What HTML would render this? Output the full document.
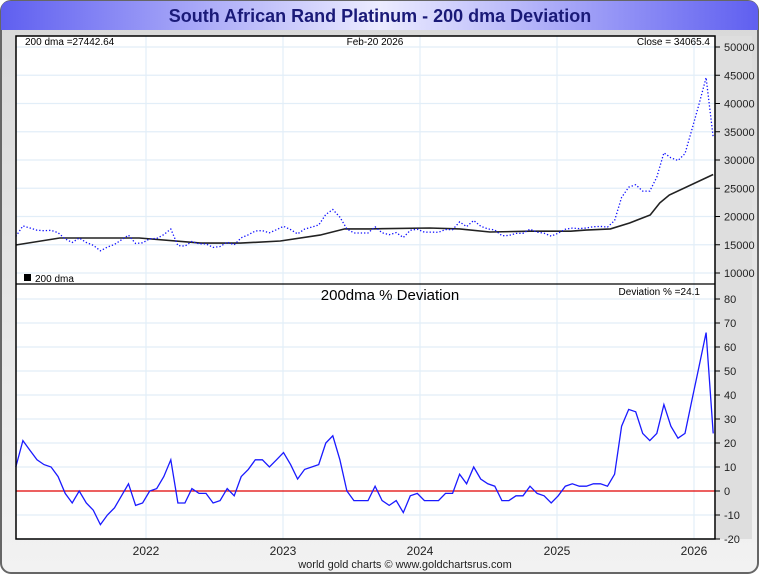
<!DOCTYPE html>
<html><head><meta charset="utf-8"><style>
body{margin:0;background:#fff;font-family:"Liberation Sans",sans-serif;}
#wrap{position:relative;width:760px;height:575px;overflow:hidden;}
</style></head><body>
<div id="wrap">
<svg id="svg" width="760" height="575" xmlns="http://www.w3.org/2000/svg" font-family="Liberation Sans, sans-serif">
<defs>
<linearGradient id="tg" x1="0" x2="1" y1="0" y2="0">
<stop offset="0" stop-color="#5f5ff0"/><stop offset="0.5" stop-color="#ececff"/><stop offset="1" stop-color="#5f5ff0"/></linearGradient>
<linearGradient id="bg" x1="0" x2="0" y1="0" y2="1">
<stop offset="0" stop-color="#d8d8d8"/><stop offset="1" stop-color="#f2f2f2"/></linearGradient>
</defs>
<rect x="1" y="1" width="757" height="572" rx="10" fill="url(#bg)" stroke="#666" stroke-width="2"/>
<path d="M1,30 L1,11 Q1,1 11,1 L748,1 Q758,1 758,11 L758,30 Z" fill="url(#tg)"/>
<text x="380" y="22" text-anchor="middle" font-size="18" font-weight="bold" fill="#1a1a78">South African Rand Platinum - 200 dma Deviation</text>
<rect x="16" y="36" width="699" height="503" fill="#fff"/>
<rect x="716" y="36" width="36" height="503" fill="#dedede"/>
<g id="grid"></g>
<g id="marks"></g>
<rect x="16" y="36" width="699" height="503" fill="none" stroke="#000" stroke-width="1.5"/>
<line x1="16" y1="284" x2="715" y2="284" stroke="#000" stroke-width="1.2"/>
<g id="axes" font-size="11" fill="#222"></g>
<text x="25" y="45" font-size="10" fill="#000">200 dma =27442.64</text>
<text x="375" y="45" font-size="10" text-anchor="middle" fill="#000">Feb-20  2026</text>
<text x="710" y="45" font-size="10" text-anchor="end" fill="#000">Close = 34065.4</text>
<rect x="24" y="274" width="7" height="7" fill="#000"/>
<text x="35" y="282" font-size="10" fill="#000">200 dma</text>
<text x="390" y="300" font-size="15" text-anchor="middle" fill="#000">200dma  %  Deviation</text>
<text x="700" y="295" font-size="10" text-anchor="end" fill="#000">Deviation % =24.1</text>
<text x="405" y="568" font-size="11" text-anchor="middle" fill="#222">world gold charts © www.goldchartsrus.com</text>
</svg>
</div>
<script>
const startYear = 2021.05;
const endYear = 2026.14;
const yearTicks = [2022, 2023, 2024, 2025, 2026];
const priceTicks = [10000, 15000, 20000, 25000, 30000, 35000, 40000, 45000, 50000];
const devTicks = [-20, -10, 0, 10, 20, 30, 40, 50, 60, 70, 80];
const deviation = [10,21,17,13,11,10,6,-1,-5,0,-5,-8,-14,-10,-7,-2,3,-6,-5,0,1,6,13,-5,-5,1,-1,-1,-5,-4,1,-2,6,9,13,13,10,13,16,11,5,9,10,11,20,23,13,0,-4,-4,-4,2,-4,-6,-4,-9,-2,-1,-4,-4,-4,-1,-1,7,3,10,5,3,2,-4,-4,-2,-2,2,-1,-2,-5,-2,2,3,2,2,3,3,2,7,27,34,33,24,21,24,36,27,22,24,38,52,66,24];
const dmaDates = [2021.05,2021.37,2021.95,2022.40,2022.69,2022.98,2023.27,2023.45,2023.63,2024.07,2024.29,2024.51,2024.80,2025.10,2025.21,2025.39,2025.53,2025.68,2025.75,2025.82,2026.14];
const dmaValues = [14960,16200,16200,15300,15300,15660,16700,17800,17800,17960,17800,17250,17400,17400,17600,17800,18850,20270,22400,23800,27440];

const svgNS = "http://www.w3.org/2000/svg";
const X = t => 146 + (t - 2022) * 137;
const YP = p => 273 - (p - 10000) / 1000 * 5.65;
const YD = d => 491 - d * 2.4;
function mk(tag, attrs, parent){const e=document.createElementNS(svgNS,tag);for(const k in attrs)e.setAttribute(k,attrs[k]);parent.appendChild(e);return e;}
function dmaAt(t){for(let i=0;i<dmaDates.length-1;i++){if(t<=dmaDates[i+1]){const f=(t-dmaDates[i])/(dmaDates[i+1]-dmaDates[i]);return dmaValues[i]+f*(dmaValues[i+1]-dmaValues[i]);}}return dmaValues[dmaValues.length-1];}
const grid=document.getElementById('grid'), marks=document.getElementById('marks'), axes=document.getElementById('axes');
yearTicks.forEach(y=>{
  const g=mk('line',{x1:X(y),x2:X(y),y1:36,y2:539,stroke:'#e2eef8','stroke-width':1.2},grid);
  
  
  const t=mk('text',{x:X(y),y:555,'text-anchor':'middle','font-size':12},axes);
  t.textContent=y;
  
  
});
priceTicks.forEach(p=>{
  const y=YP(p);
  const g=mk('line',{x1:16,x2:715,y1:y,y2:y,stroke:'#e2eef8','stroke-width':1.2},grid);
  
  
  mk('line',{x1:715,x2:720,y1:y,y2:y,stroke:'#000'},axes);
  const t=mk('text',{x:724,y:y+4,'font-size':11},axes);
  t.textContent=p;
  
  
});
devTicks.forEach(d=>{
  const y=YD(d);
  if(d!==0){const g=mk('line',{x1:16,x2:715,y1:y,y2:y,stroke:'#e2eef8','stroke-width':1.2},grid);
  
  }
  mk('line',{x1:715,x2:720,y1:y,y2:y,stroke:'#000'},axes);
  const t=mk('text',{x:724,y:y+4,'font-size':11},axes);
  t.textContent=d;
  
  
});
const n=deviation.length;
const dates=deviation.map((_,i)=>startYear+i*(endYear-startYear)/(n-1));
// dma line
let dp=dmaDates.map((t,i)=>X(t).toFixed(1)+','+YP(dmaValues[i]).toFixed(1)).join(' ');
const dl=mk('polyline',{points:dp,fill:'none',stroke:'#222','stroke-width':1.6},marks);


// price dots
let pp=dates.map((t,i)=>X(t).toFixed(1)+','+YP(dmaAt(t)*(1+deviation[i]/100)).toFixed(1)).join(' ');
const pl=mk('polyline',{points:pp,fill:'none',stroke:'#1010ff','stroke-width':1.3,'stroke-dasharray':'1.3 2'},marks);


// zero line
const z=mk('line',{x1:16,x2:715,y1:YD(0),y2:YD(0),stroke:'#e00000','stroke-width':1.2},marks);


let dv=dates.map((t,i)=>X(t).toFixed(1)+','+YD(deviation[i]).toFixed(1)).join(' ');
const dvl=mk('polyline',{points:dv,fill:'none',stroke:'#1a1aff','stroke-width':1.3},marks);


</script>
</body></html>
